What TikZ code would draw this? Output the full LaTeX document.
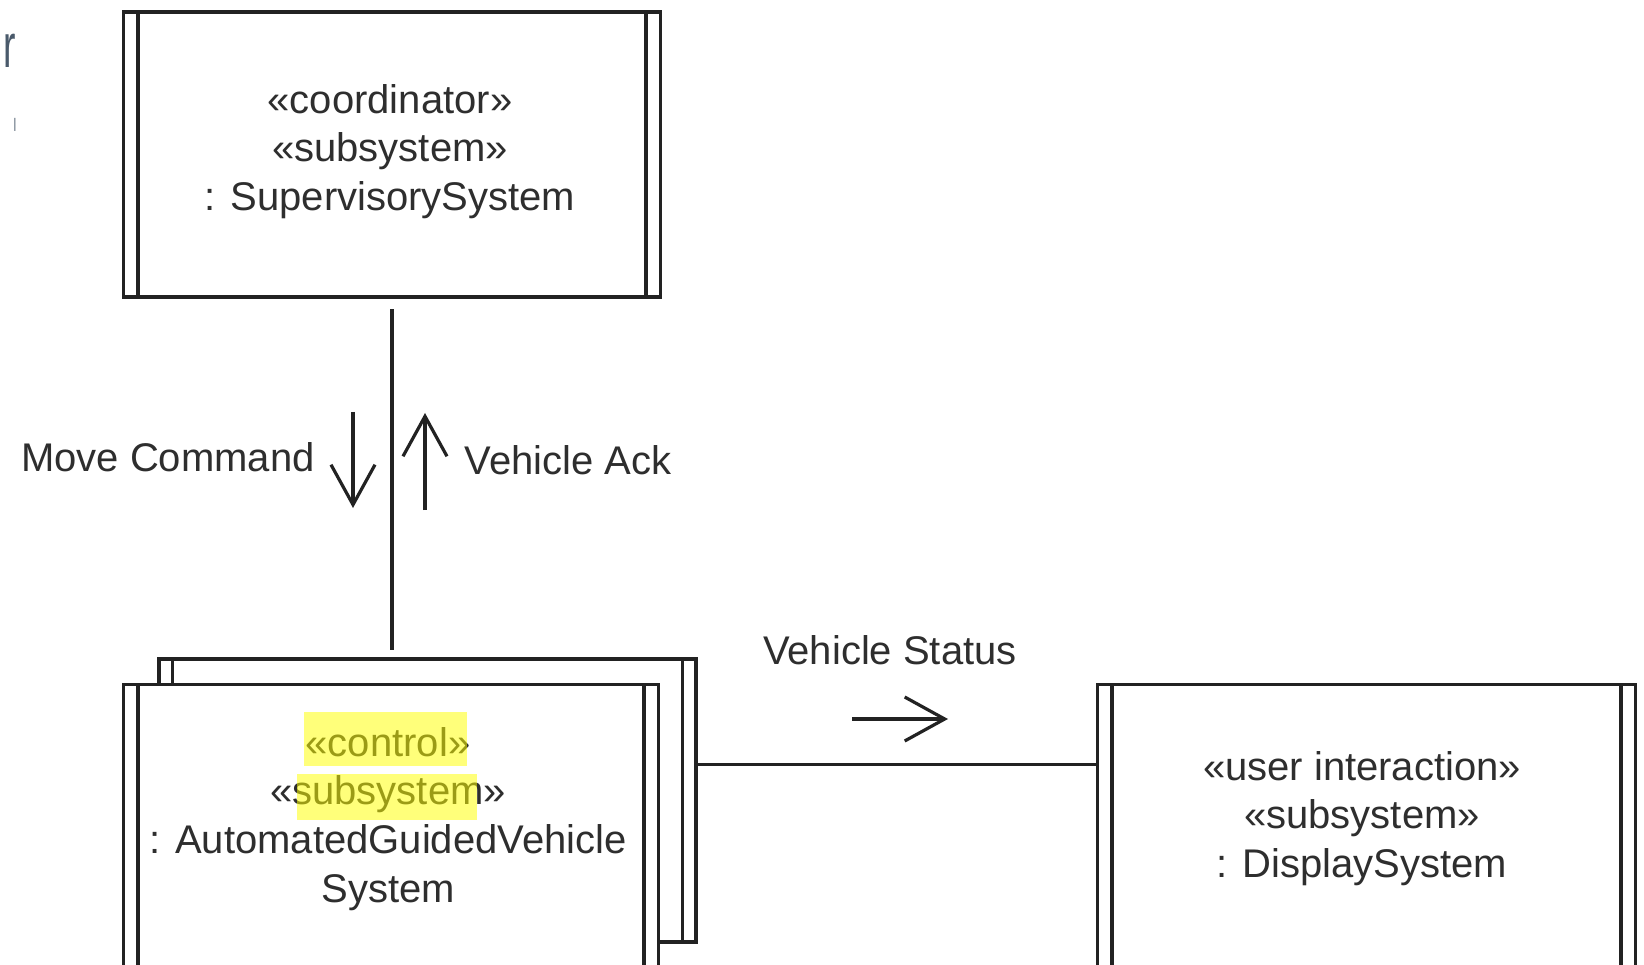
\documentclass[tikz,border=0pt]{standalone}
\usepackage{fontspec}
\setmainfont{Liberation Sans}
\usetikzlibrary{arrows.meta}
\definecolor{ink}{HTML}{222222}
\definecolor{txt}{HTML}{2E2E2E}
\definecolor{hlyellow}{HTML}{FFFF00}
\definecolor{slate}{HTML}{4A5A6B}
\begin{document}
\begin{tikzpicture}[x=1pt,y=-1pt,
  subsys/.style={draw=ink, line width=3.6pt, fill=white, rectangle, inner sep=0pt, anchor=north west,
    path picture={\draw[ink,line width=3.4pt]
      ([xshift=#1]path picture bounding box.north west) -- ([xshift=#1]path picture bounding box.south west)
      ([xshift=-#1]path picture bounding box.north east) -- ([xshift=-#1]path picture bounding box.south east);}},
  subsys/.default=14.5pt,
  boxtext/.style={text=txt, align=center, inner sep=0pt, font=\fontsize{40}{48.7}\selectfont},
  msg/.style={text=txt, inner sep=0pt, font=\fontsize{40}{48}\selectfont},
  link/.style={draw=ink, line width=3.4pt},
  msgarrow/.style={draw=ink, line width=3.2pt, -{Straight Barb[length=40pt,width=44pt,line width=3.2pt]}},
  hlmark/.style={fill=hlyellow, fill opacity=0.52}
]
\useasboundingbox (0,0) rectangle (1644,965);
\fill[white] (0,0) rectangle (1644,965);

% cropped fragments at the left edge
\node[text=slate, inner sep=0pt, anchor=base west, font=\fontsize{62}{62}\selectfont, xscale=0.6, transform shape] (frag1) at (3,68) {r};
\node[text=slate!80, inner sep=0pt, anchor=center, font=\fontsize{14}{14}\selectfont] (frag2) at (15,124.5) {|};

% boxes
\node[subsys, minimum width=537pt, minimum height=285pt] (top) at (121.6,10.5) {};
\node[subsys=13.6pt, minimum width=537pt, minimum height=283pt] (agvback) at (157.3,657.4) {};
\node[subsys, minimum width=535pt, minimum height=340pt] (agv) at (121.6,682.6) {};
\node[subsys, minimum width=538pt, minimum height=340pt] (disp) at (1095.7,682.6) {};

% box texts
\node[boxtext] (toptxt) at (390,151.5) {«coordinator»\\«subsystem»\\: SupervisorySystem};
\node[boxtext] (agvtxt) at (388,819) {«control»\\«subsystem»\\: AutomatedGuidedVehicle\\System};
\node[boxtext] (disptxt) at (1362,818.4) {«user interaction»\\«subsystem»\\: DisplaySystem};

% highlights
\fill[hlmark] (304,712) rectangle (467,765.5);
\fill[hlmark] (296.5,774) rectangle (477,820);

% links
\draw[link, shorten <=10pt, shorten >=7pt] (top.south) -- (top.south |- agvback.north);
\coordinate (hy) at (0,764.4);
\draw[link] (agvback.east |- hy) -- (disp.west |- hy);

% messages
\node[msg, anchor=west] (mc) at (21,457) {Move Command};
\node[msg, anchor=west] (va) at (464.5,460) {Vehicle Ack};
\node[msg, anchor=west] (vs) at (763,650) {Vehicle Status};
\coordinate (mcA) at (353,412);
\coordinate (mcB) at (353,508);
\coordinate (vaA) at (425,510);
\coordinate (vaB) at (425,413);
\coordinate (vsA) at (852,719);
\coordinate (vsB) at (948,719);
\draw[msgarrow] (mcA) -- (mcB);
\draw[msgarrow] (vaA) -- (vaB);
\draw[msgarrow] (vsA) -- (vsB);
\end{tikzpicture}
\end{document}
